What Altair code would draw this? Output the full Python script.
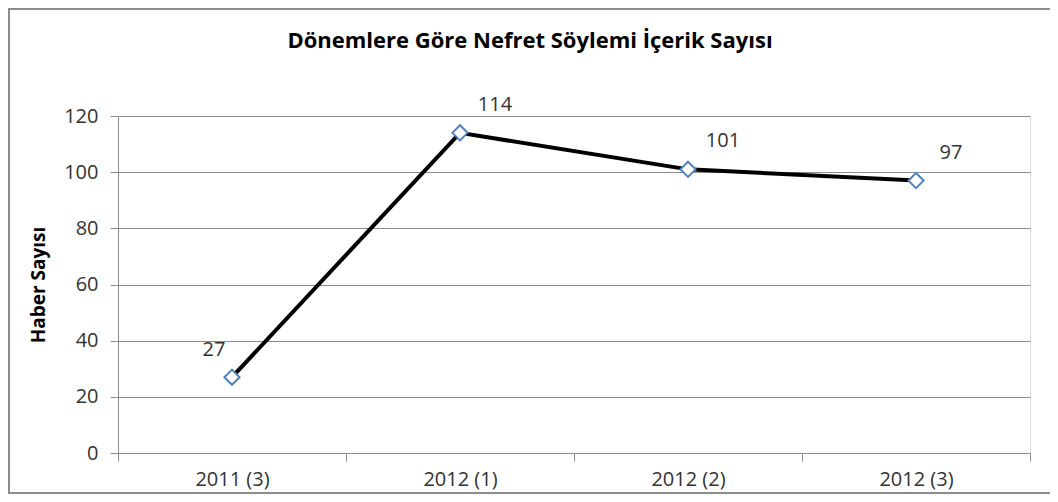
import altair as alt
import pandas as pd

periods = ["2011 (3)", "2012 (1)", "2012 (2)", "2012 (3)"]
counts = [27, 114, 101, 97]
y_ticks = [0, 20, 40, 60, 80, 100, 120]

df = pd.DataFrame({"period": periods, "count": counts})

FONT = "Open Sans"
GRID = "#8c8c8c"
LABEL = "#333333"

x_enc = alt.X(
    "period:N",
    sort=periods,
    scale=alt.Scale(type="band", paddingInner=0, paddingOuter=0),
    axis=alt.Axis(
        title=None,
        tickBand="extent",
        labelAngle=0,
        labelFontSize=20,
        labelColor=LABEL,
        labelFont=FONT,
        labelPadding=8,
        tickSize=8,
        tickColor=GRID,
        domainColor=GRID,
        grid=False,
    ),
)
y_enc = alt.Y(
    "count:Q",
    scale=alt.Scale(domain=[0, 120], nice=False),
    axis=alt.Axis(
        title="Haber Sayısı",
        values=y_ticks,
        titleFont=FONT,
        titleFontSize=19,
        titleFontWeight="bold",
        titleColor="#000000",
        titleX=-80,
        titleAlign="center",
        titleBaseline="middle",
        labelFontSize=20,
        labelColor=LABEL,
        labelFont=FONT,
        labelPadding=12,
        tickSize=8,
        tickColor=GRID,
        domainColor=GRID,
        gridColor=GRID,
        grid=True,
    ),
)

base = alt.Chart(df)

border = alt.Chart(alt.Data(values=[{}])).mark_rect(
    fill="transparent", stroke="#8c8c8c", strokeWidth=2
).encode(
    x=alt.value(-109), x2=alt.value(1100), y=alt.value(-107), y2=alt.value(377)
)

line = base.mark_line(color="#000000", strokeWidth=4).encode(x=x_enc, y=y_enc)
pts = base.mark_point(
    shape="diamond", size=230, filled=True, fill="#ffffff", stroke="#4f81bd",
    strokeWidth=2, opacity=1
).encode(x=x_enc, y=y_enc)

lab_first = base.transform_filter(alt.datum.period == periods[0]).mark_text(
    font=FONT, fontSize=20, color=LABEL, dx=-18, dy=-27
).encode(x=x_enc, y=y_enc, text="count:Q")
lab_rest = base.transform_filter(alt.datum.period != periods[0]).mark_text(
    font=FONT, fontSize=20, color=LABEL, dx=35, dy=-28
).encode(x=x_enc, y=y_enc, text="count:Q")

chart = alt.layer(border, line, pts, lab_first, lab_rest).properties(
    width=912,
    height=337,
    title=alt.TitleParams(
        "Dönemlere Göre Nefret Söylemi İçerik Sayısı",
        anchor="middle",
        dx=-44,
        offset=-45,
        font=FONT,
        fontSize=22,
        fontWeight="bold",
        color="#000000",
    ),
    autosize=alt.AutoSizeParams(type="none"),
    padding={"left": 110, "top": 108, "right": 20, "bottom": 41},
).configure_view(stroke=None).configure(background="#ffffff")

chart.save("out.html", embed_options={"renderer": "svg", "actions": False})
